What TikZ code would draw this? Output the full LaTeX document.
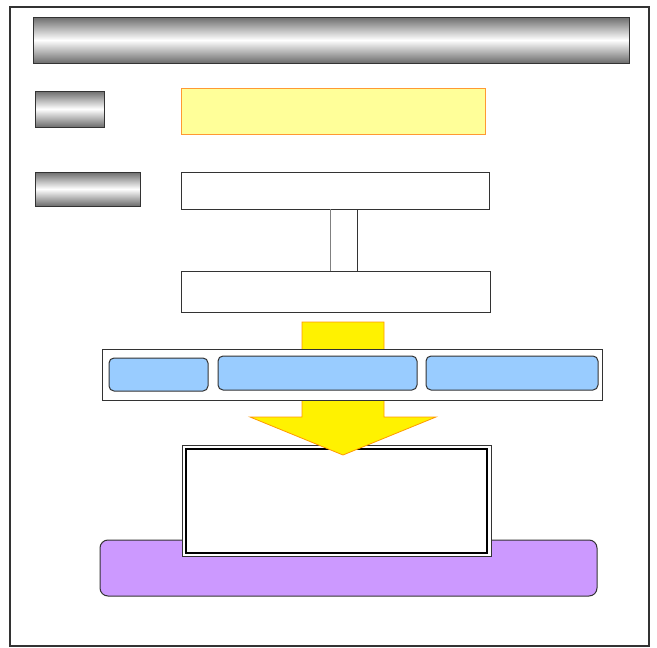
\documentclass[tikz,border=0pt]{standalone}
\usetikzlibrary{calc}
\definecolor{paleyellow}{HTML}{FFFF99}
\definecolor{orangeline}{HTML}{FF9933}
\definecolor{arrowline}{HTML}{FF9900}
\definecolor{lightblue}{HTML}{99CCFF}
\definecolor{lilac}{HTML}{CC99FF}
\definecolor{darkline}{HTML}{333333}
\begin{document}
\begin{tikzpicture}[x=1pt,y=-1pt,
  every node/.style={inner sep=0pt,outer sep=0pt,anchor=north west},
  plainbox/.style={draw=darkline,line width=1pt,fill=white},
  metalbox/.style={draw=darkline,line width=1pt,top color=gray!85!black,bottom color=gray!85!black,middle color=white},
  notebox/.style={draw=orangeline,line width=1pt,fill=paleyellow},
  bluebox/.style={draw=darkline,line width=1pt,fill=lightblue,rounded corners=5pt},
  lilacbox/.style={draw=darkline,line width=1pt,fill=lilac,rounded corners=8pt},
  bigarrow/.style={draw=arrowline,line width=0.8pt,fill=yellow,line join=miter}
]
\useasboundingbox (0,0) rectangle (657,648);
% outer frame
\node[draw=darkline,line width=1.2pt,minimum width=639pt,minimum height=639pt] (frame) at (10,7) {};
% title bar
\node[metalbox,minimum width=596pt,minimum height=46pt] (title) at (33,17) {};
% labels
\node[metalbox,minimum width=69pt,minimum height=36pt] (lab1) at (35,91) {};
\node[notebox,minimum width=304pt,minimum height=46pt] (note) at (181,88) {};
\node[metalbox,minimum width=105pt,minimum height=34pt] (lab2) at (35,172) {};
% upper white boxes
\node[plainbox,minimum width=308pt,minimum height=37pt] (upper) at (181,172) {};
\node[plainbox,minimum width=309pt,minimum height=41pt] (lower) at (181,271) {};
\draw[gray,line width=1pt] (upper.south -| 330,0) -- (lower.north -| 330,0);
\draw[darkline,line width=1pt] (upper.south -| 357,0) -- (lower.north -| 357,0);
% purple base
\node[lilacbox,minimum width=497pt,minimum height=56pt] (base) at (100,540) {};
% double box
\node[draw=darkline,line width=1pt,fill=white,minimum width=309pt,minimum height=111pt] (result) at (182,445) {};
\node[draw=black,line width=1.6pt,minimum width=301pt,minimum height=104pt] (resultin) at (186,449) {};
% big arrow
\coordinate (a1) at (302,322);
\coordinate (a2) at (384,322);
\coordinate (a3) at (384,417);
\coordinate (a4) at (436,417);
\coordinate (tip) at (343,455);
\coordinate (a5) at (250,417);
\coordinate (a6) at (302,417);
\draw[bigarrow] (a1) -- (a2) -- (a3) -- (a4) -- (tip) -- (a5) -- (a6) -- cycle;
% container with blue boxes
\node[plainbox,minimum width=500pt,minimum height=51pt] (band) at (102,349) {};
\node[bluebox,minimum width=99pt,minimum height=33pt] (b1) at (109,358) {};
\node[bluebox,minimum width=199pt,minimum height=34pt] (b2) at (218,356) {};
\node[bluebox,minimum width=172pt,minimum height=34pt] (b3) at (426,356) {};
\end{tikzpicture}
\end{document}
